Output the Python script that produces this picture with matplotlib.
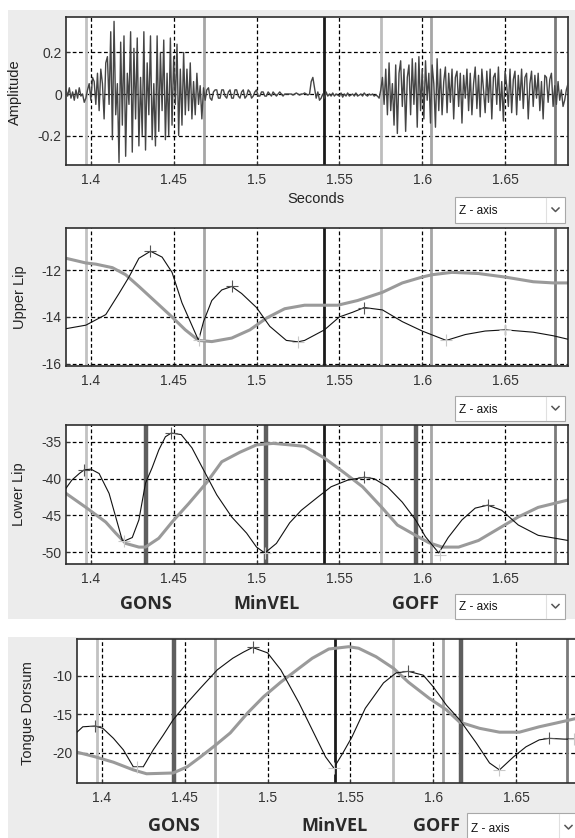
import numpy as np
import matplotlib
matplotlib.use("Agg")
import matplotlib.pyplot as plt
import matplotlib.transforms as mtransforms
from matplotlib.patches import Rectangle
from matplotlib.lines import Line2D

plt.rcParams['font.family'] = ['Liberation Sans', 'DejaVu Sans']
plt.rcParams['axes.unicode_minus'] = False

# ---------------- data ----------------
xticks = [1.4, 1.45, 1.5, 1.55, 1.6, 1.65]
xtick_labels = ['1.4', '1.45', '1.5', '1.55', '1.6', '1.65']

# audio waveform, 1 ms samples starting at 1.385 s
amp_onset = [0.02, -0.01, 0.03, -0.02, 0.01, -0.03, 0.02, -0.02, 0.03, -0.01, 0.0, -0.04, -0.02]
amp_rise = [0.02, 0.05, -0.03, 0.08, 0.06, -0.05, 0.10, -0.08, 0.12, 0.05, -0.12, 0.15]
amp_vowel = [0.18, -0.05, 0.30, -0.22, 0.35, -0.10, 0.05, -0.33, 0.25, -0.15,
             0.28, -0.30, 0.10, -0.05, 0.30, -0.28, 0.22, -0.12, 0.27, -0.25,
             0.08, -0.20, 0.30, -0.27, 0.15, -0.10, 0.28, -0.22, 0.05, -0.25,
             0.28, -0.18, 0.20, -0.08, 0.26, -0.22, 0.10, -0.20, 0.27, -0.15,
             0.18, -0.05, 0.24, -0.20, 0.12, -0.15, 0.20, -0.10, 0.12, -0.08,
             0.15, -0.12, 0.06, -0.10, 0.10, -0.05, 0.04, -0.12]
amp_tail = [0.03, -0.03, 0.02, 0.03, -0.02, -0.03, 0.01, 0.02, 0.02, -0.02,
            -0.02, 0.02, 0.02, -0.01, -0.02, 0.01, 0.02, -0.02, -0.02, 0.02,
            0.02, -0.01, -0.02, 0.01, 0.02, -0.02, -0.01, 0.02, 0.01, -0.02,
            -0.01, 0.01, 0.02, -0.01, -0.01, 0.01, 0.01, -0.01, -0.01, 0.01,
            0.0, -0.01, 0.01, 0.0, -0.01, 0.0, 0.01, 0.0, -0.01, 0.0, 0.0, 0.0]
amp_closure = [0.0, 0.0, -0.005, 0.0, 0.005, 0.0, -0.005, 0.0, 0.0, 0.005,
               0.0, -0.005, 0.0, 0.06, 0.08, 0.03, -0.02, 0.01, -0.03, -0.02,
               0.0, -0.02, 0.01, -0.01, 0.0, -0.01, 0.005, -0.01, 0.0, -0.005,
               -0.01, 0.005, -0.015, 0.0, -0.01, 0.005, -0.01, -0.005, 0.0, -0.01,
               0.005, -0.01, -0.005, 0.0, -0.01, 0.005, -0.005, -0.01, 0.0, -0.005,
               0.0, -0.01, -0.005, -0.01, -0.02]
amp_frication = [0.02, 0.08, -0.05, 0.12, -0.10, 0.15, -0.08, 0.05, -0.15, 0.14,
                 -0.19, 0.10, 0.16, -0.06, 0.12, -0.18, 0.08, 0.14, -0.10, 0.17,
                 -0.05, 0.15, -0.16, 0.18, -0.08, 0.12, -0.12, 0.16, -0.03, 0.10,
                 -0.14, 0.14, 0.05, -0.16, 0.17, -0.08, 0.12, -0.10, 0.06, 0.13,
                 -0.09, 0.10, -0.04, 0.12, -0.12, 0.08, 0.11, -0.06, 0.10, -0.14,
                 0.09, -0.02, 0.12, -0.08, 0.10, -0.10, 0.05, 0.13, -0.07, 0.09,
                 -0.11, 0.12, 0.02, -0.09, 0.11, -0.04, 0.12, -0.12, 0.08, 0.10,
                 -0.05, 0.13, -0.08, 0.06, -0.13, 0.11, 0.04, -0.06, 0.12, -0.09,
                 0.07, 0.11, -0.10, 0.09, -0.03, 0.12, -0.07, 0.08, 0.10, -0.12,
                 0.05, 0.11, -0.06, 0.09, -0.02, 0.10, -0.08, 0.06, -0.12, 0.09,
                 0.08, -0.04, 0.07, 0.10, -0.06, 0.04, -0.05, 0.06, -0.03, 0.02,
                 -0.06, -0.03, 0.02, 0.05]

# upper lip
ul_black_t = [1.385, 1.397, 1.409, 1.417, 1.423, 1.429, 1.436, 1.443, 1.449, 1.455, 1.465, 1.468,
              1.473, 1.479, 1.485, 1.491, 1.500, 1.508, 1.518, 1.525, 1.529, 1.541, 1.550, 1.558,
              1.565, 1.576, 1.588, 1.600, 1.6145, 1.626, 1.638, 1.650, 1.667, 1.679, 1.688]
ul_black = [-14.5, -14.35, -13.9, -13.0, -12.3, -11.5, -11.2, -11.45, -12.1, -13.4, -15.0, -14.2,
            -13.3, -12.85, -12.7, -13.0, -13.6, -14.4, -15.0, -15.06, -15.0, -14.55, -14.0, -13.8,
            -13.6, -13.7, -14.2, -14.6, -15.0, -14.75, -14.6, -14.55, -14.65, -14.8, -14.95]
ul_gray_t = [1.385, 1.397, 1.403, 1.413, 1.421, 1.429, 1.439, 1.449, 1.457, 1.465, 1.473, 1.485,
             1.496, 1.506, 1.517, 1.529, 1.549, 1.561, 1.576, 1.588, 1.600, 1.606, 1.618, 1.634,
             1.650, 1.667, 1.679, 1.688]
ul_gray = [-11.5, -11.7, -11.75, -11.9, -12.2, -12.7, -13.35, -14.0, -14.55, -15.0, -15.05, -14.9,
           -14.55, -14.05, -13.65, -13.5, -13.5, -13.3, -12.95, -12.55, -12.3, -12.2, -12.1, -12.15,
           -12.3, -12.5, -12.55, -12.55]
ul_peak_t = [1.436, 1.485, 1.565]
ul_peak = [-11.2, -12.7, -13.6]
ul_min_t = [1.465, 1.525, 1.6145, 1.650]
ul_min = [-15.0, -15.06, -15.0, -14.55]

# lower lip
ll_black_t = [1.385, 1.3885, 1.393, 1.396, 1.400, 1.405, 1.411, 1.415, 1.419, 1.420, 1.425, 1.429,
              1.433, 1.437, 1.441, 1.445, 1.4485, 1.4545, 1.461, 1.468, 1.476, 1.485, 1.494, 1.500,
              1.505, 1.512, 1.520, 1.527, 1.537, 1.545, 1.555, 1.565, 1.571, 1.579, 1.588, 1.596,
              1.602, 1.610, 1.6157, 1.624, 1.632, 1.6395, 1.648, 1.658, 1.670, 1.688]
ll_black = [-41.3, -40.2, -39.3, -38.8, -38.7, -39.3, -42.0, -45.2, -48.4, -48.5, -48.0, -45.6,
            -40.6, -38.5, -36.1, -34.3, -33.8, -34.0, -35.8, -38.8, -42.2, -45.2, -47.4, -49.3,
            -50.1, -48.8, -46.0, -44.3, -42.5, -41.1, -40.2, -39.8, -40.0, -41.1, -43.2, -45.6,
            -47.9, -50.1, -48.0, -45.6, -44.0, -43.6, -44.3, -46.3, -47.7, -48.4]
ll_gray_t = [1.385, 1.397, 1.409, 1.415, 1.421, 1.429, 1.433, 1.441, 1.449, 1.459, 1.470, 1.479,
             1.490, 1.500, 1.510, 1.520, 1.529, 1.541, 1.553, 1.564, 1.576, 1.585, 1.596, 1.604,
             1.612, 1.622, 1.634, 1.646, 1.658, 1.670, 1.688]
ll_gray = [-42.0, -43.9, -45.9, -47.4, -48.8, -49.3, -49.3, -48.1, -45.9, -43.4, -40.5, -37.7,
           -36.4, -35.4, -35.2, -35.4, -35.6, -37.2, -39.2, -41.1, -44.0, -46.3, -47.7, -48.7,
           -49.3, -49.3, -48.4, -46.8, -45.2, -43.9, -42.9]
ll_peak_t = [1.396, 1.4485, 1.565, 1.6395]
ll_peak = [-38.8, -33.8, -39.8, -43.6]
ll_min_t = [1.420, 1.505, 1.611]
ll_min = [-48.5, -50.1, -50.4]

# tongue dorsum
td_black_t = [1.385, 1.3885, 1.396, 1.4006, 1.407, 1.413, 1.419, 1.421, 1.425, 1.431, 1.437, 1.443,
              1.4515, 1.4594, 1.4697, 1.479, 1.4855, 1.491, 1.500, 1.508, 1.519, 1.527, 1.535,
              1.540, 1.5455, 1.551, 1.559, 1.570, 1.5776, 1.585, 1.594, 1.600, 1.608, 1.616,
              1.626, 1.634, 1.640, 1.6485, 1.656, 1.664, 1.670, 1.679, 1.685]
td_black = [-17.3, -16.6, -16.5, -16.8, -18.1, -19.6, -21.8, -21.8, -21.8, -19.6, -17.7, -15.7,
            -13.5, -11.6, -9.2, -7.7, -6.9, -6.3, -7.0, -9.2, -13.5, -17.0, -20.5,
            -21.95, -20.0, -17.9, -14.2, -10.9, -9.6, -9.4, -9.9, -11.4, -13.8, -15.7,
            -18.7, -21.3, -22.2, -20.5, -19.2, -18.3, -18.1, -18.2, -18.2]
td_gray_t = [1.385, 1.396, 1.407, 1.419, 1.427, 1.443, 1.4515, 1.459, 1.4685, 1.4775, 1.488,
             1.4976, 1.508, 1.519, 1.527, 1.537, 1.549, 1.555, 1.5655, 1.576, 1.585, 1.5976,
             1.608, 1.616, 1.628, 1.640, 1.652, 1.664, 1.6745, 1.6867]
td_gray = [-19.9, -20.5, -21.2, -22.2, -22.7, -22.6, -21.8, -20.6, -19.0, -17.4, -14.8,
           -12.7, -10.8, -9.0, -7.7, -6.5, -6.2, -6.4, -7.5, -9.0, -10.8, -12.9,
           -14.4, -16.0, -16.8, -17.3, -17.3, -16.6, -16.1, -15.5]
td_peak_t = [1.396, 1.491, 1.585, 1.670]
td_peak = [-16.5, -6.3, -9.4, -18.1]
td_min_t = [1.421, 1.540, 1.640, 1.685]
td_min = [-21.8, -21.95, -22.2, -18.2]

# event markers
events_top = [1.397, 1.468, 1.5406, 1.5752, 1.6055, 1.680]
events_top_colors = ['#c2c2c2', '#a6a6a6', '#1a1a1a', '#bdbdbd', '#a6a6a6', '#7a7a7a']
events_ll_thick = [1.433, 1.506, 1.596]
events_td = [1.397, 1.468, 1.5406, 1.5758, 1.606, 1.681]
events_td_thick = [1.4436, 1.617]
gesture_names = ['GONS', 'MinVEL', 'GOFF']
ll_name_x = [1.433, 1.506, 1.596]
td_name_x = [1.4436, 1.5406, 1.602]

# ---------------- figure ----------------
W, H = 575, 838
fig = plt.figure(figsize=(W / 100, H / 100), dpi=100, facecolor='white')


def box(l, t, r, b):
    return [l / W, 1 - b / H, (r - l) / W, (b - t) / H]


def rect(l, t, r, b, **kw):
    fig.patches.append(Rectangle((l / W, 1 - b / H), (r - l) / W, (b - t) / H,
                                 transform=fig.transFigure, **kw))


def pxline(xs, ys, **kw):
    fig.add_artist(Line2D([x / W for x in xs], [1 - y / H for y in ys],
                          transform=fig.transFigure, **kw))


# gray window backgrounds
rect(8, 10, W, 619, facecolor='#ececec', edgecolor='none', zorder=-2)
rect(8, 637, W, H, facecolor='#ececec', edgecolor='none', zorder=-2)
pxline([218, 218], [784, H], color='white', lw=1.2, zorder=-1)


def setup(ax, ylim, yticks, ylabels):
    ax.set_zorder(1)
    ax.set_facecolor('white')
    ax.set_xlim(1.385, 1.688)
    ax.set_ylim(*ylim)
    ax.set_xticks(xticks)
    ax.set_xticklabels(xtick_labels)
    ax.set_yticks(yticks)
    ax.set_yticklabels(ylabels)
    ax.grid(True, color='black', linestyle=(0, (3, 2)), linewidth=0.9)
    ax.set_axisbelow(True)
    ax.tick_params(direction='in', length=3, labelsize=10, colors='#333333')
    ax.tick_params(axis='x', pad=6)
    ax.tick_params(axis='y', pad=3)
    for s in ax.spines.values():
        s.set_color('#2e2e2e')
        s.set_linewidth(1.2)


def events(ax, times, colors, lw=2.0):
    for t, c in zip(times, colors):
        ax.axvline(t, color=c, lw=lw, zorder=1.5)


def curves(ax, bt, b, gt, g, pt, p, mt, m):
    ax.plot(gt, g, color='#9a9a9a', lw=2.2, zorder=2)
    ax.plot(bt, b, color='#111111', lw=0.8, zorder=3)
    ax.plot(pt, p, ls='none', marker='+', ms=9, mew=0.8, color='#555555', zorder=4)
    ax.plot(mt, m, ls='none', marker='+', ms=9, mew=0.8, color='#c8c8c8', zorder=4)


def dropdown(l, t, r, b):
    rect(l, t, r, b, facecolor='white', edgecolor='#a8a8a8', lw=0.8, zorder=5)
    fig.text((l + 4) / W, 1 - ((t + b) / 2 + 1) / H, 'Z - axis', fontsize=8.5,
             va='center', ha='left', color='#111111', zorder=6)
    pxline([r - 19, r - 19], [t + 1, b - 1], color='#e0e0e0', lw=0.8, zorder=6)
    cx, cy = r - 9.5, (t + b) / 2
    pxline([cx - 3.5, cx, cx + 3.5], [cy - 2, cy + 1.5, cy - 2], color='#555555', lw=1.1, zorder=6)


# panel 1: audio
amp = np.array(amp_onset + amp_rise + amp_vowel + amp_tail + amp_closure + amp_frication)
t_audio = 1.385 + 0.001 * np.arange(len(amp))
ax1 = fig.add_axes(box(66, 17, 568, 165))
setup(ax1, (-0.342, 0.371), [-0.2, 0, 0.2], ['-0.2', '0', '0.2'])
events(ax1, events_top, events_top_colors)
ax1.plot(t_audio, amp, color='#454545', lw=1.0, zorder=3)

# panel 2: upper lip
ax2 = fig.add_axes(box(66, 228, 568, 366))
setup(ax2, (-16.09, -10.21), [-16, -14, -12], ['-16', '-14', '-12'])
events(ax2, events_top, events_top_colors)
curves(ax2, ul_black_t, ul_black, ul_gray_t, ul_gray, ul_peak_t, ul_peak, ul_min_t, ul_min)

# panel 3: lower lip
ax3 = fig.add_axes(box(66, 425, 568, 564))
setup(ax3, (-51.6, -32.7), [-50, -45, -40, -35], ['-50', '-45', '-40', '-35'])
events(ax3, events_top, events_top_colors)
events(ax3, events_ll_thick, ['#5e5e5e'] * 3, lw=3.2)
curves(ax3, ll_black_t, ll_black, ll_gray_t, ll_gray, ll_peak_t, ll_peak, ll_min_t, ll_min)

# panel 4: tongue dorsum (window cut at the right edge)
ax4 = fig.add_axes(box(77, 639, 579, 783))
setup(ax4, (-23.9, -5.2), [-20, -15, -10], ['-20', '-15', '-10'])
events(ax4, events_td, events_top_colors)
events(ax4, events_td_thick, ['#5e5e5e'] * 2, lw=3.2)
curves(ax4, td_black_t, td_black, td_gray_t, td_gray, td_peak_t, td_peak, td_min_t, td_min)

# axis labels
lab = dict(rotation=90, ha='center', va='center', fontsize=10.5, color='#222222')
fig.text(15 / W, 1 - 92 / H, 'Amplitude', **lab)
fig.text(20 / W, 1 - 297 / H, 'Upper Lip', **lab)
fig.text(19 / W, 1 - 494 / H, 'Lower Lip', **lab)
fig.text(28 / W, 1 - 713 / H, 'Tongue Dorsum', **lab)
fig.text(316 / W, 1 - 199 / H, 'Seconds', ha='center', va='center', fontsize=10.5, color='#222222')

# gesture landmark names
name_kw = dict(ha='center', va='center', fontsize=13, fontweight='bold',
               family=['Open Sans', 'DejaVu Sans'], color='#2a2a2a')
tr3 = mtransforms.blended_transform_factory(ax3.transData, fig.transFigure)
for x, s in zip(ll_name_x, gesture_names):
    fig.text(x, 1 - 604 / H, s, transform=tr3, **name_kw)
tr4 = mtransforms.blended_transform_factory(ax4.transData, fig.transFigure)
for x, s in zip(td_name_x, gesture_names):
    fig.text(x, 1 - 826 / H, s, transform=tr4, **name_kw)

# "Z - axis" selectors
dropdown(455, 197, 565, 223)
dropdown(455, 396, 565, 421)
dropdown(455, 594, 565, 619)
dropdown(467, 813, 578, 842)

fig.savefig('out.png', dpi=100, facecolor=fig.get_facecolor())
